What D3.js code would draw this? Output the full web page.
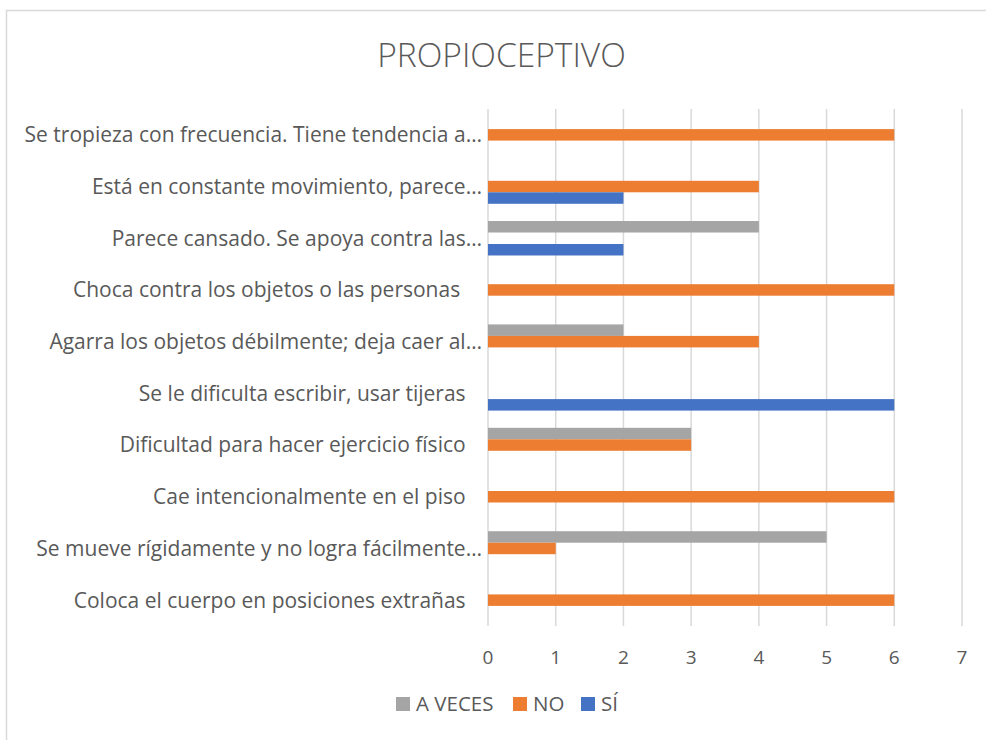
<!DOCTYPE html>
<html>
<head>
<meta charset="utf-8">
<script src="https://cdn.jsdelivr.net/npm/d3@7"></script>
<style>
  html, body { margin: 0; padding: 0; background: #fff; }
  svg text { font-family: "Open Sans", "DejaVu Sans", sans-serif; fill: #595959; white-space: pre; }
</style>
</head>
<body>
<svg id="chart"></svg>
<script>
// some source labels carry trailing spaces, kept as they are
var categories = [
  "Se tropieza con frecuencia. Tiene tendencia a…",
  "Está en constante movimiento, parece…",
  "Parece cansado. Se apoya contra las…",
  "Choca contra los objetos o las personas    ",
  "Agarra los objetos débilmente; deja caer al…",
  "Se le dificulta escribir, usar tijeras   ",
  "Dificultad para hacer ejercicio físico   ",
  "Cae intencionalmente en el piso   ",
  "Se mueve rígidamente y no logra fácilmente…",
  "Coloca el cuerpo en posiciones extrañas   "
];
var seriesNames = ["A VECES", "NO", "SÍ"];
var aVeces = [0, 0, 4, 0, 2, 0, 3, 0, 5, 0];
var no     = [6, 4, 0, 6, 4, 0, 3, 6, 1, 6];
var si     = [0, 2, 2, 0, 0, 6, 0, 0, 0, 0];
var xTicks = [0, 1, 2, 3, 4, 5, 6, 7];
var colors = ["#A5A5A5", "#ED7D31", "#4472C4"];

var width = 986, height = 740;
var svg = d3.select("#chart").attr("width", width).attr("height", height);

// chart area frame (runs past the right/bottom edge)
svg.append("rect")
  .attr("x", 6.5).attr("y", 10.5)
  .attr("width", 1000).attr("height", 760)
  .attr("fill", "#fff")
  .attr("stroke", "#d9d9d9")
  .attr("stroke-width", 1.5);

svg.append("text")
  .attr("x", 501.5).attr("y", 67)
  .attr("text-anchor", "middle")
  .style("font-size", "33.5px")
  .style("font-weight", 300)
  .text("PROPIOCEPTIVO");

var x = d3.scaleLinear().domain([0, 7]).range([488, 962]);
var y = d3.scaleBand().domain(d3.range(categories.length)).range([109, 626]).padding(0);
var ySub = d3.scaleBand().domain(seriesNames)
  .range([y.bandwidth() / 6, y.bandwidth() * 5 / 6]).padding(0);

// gridlines
svg.append("g").selectAll("line")
  .data(xTicks)
  .enter().append("line")
    .attr("x1", function(d) { return x(d); })
    .attr("x2", function(d) { return x(d); })
    .attr("y1", 109).attr("y2", 626)
    .attr("stroke", "#d9d9d9")
    .attr("stroke-width", 1.5);

var rows = categories.map(function(c, i) {
  return { i: i, vals: [aVeces[i], no[i], si[i]] };
});

var group = svg.append("g").selectAll("g")
  .data(rows)
  .enter().append("g")
    .attr("transform", function(d) { return "translate(0," + y(d.i) + ")"; });

group.selectAll("rect")
  .data(function(d) {
    return d.vals.map(function(v, k) { return { key: seriesNames[k], k: k, v: v }; })
      .filter(function(e) { return e.v > 0; });
  })
  .enter().append("rect")
    .attr("x", x(0))
    .attr("y", function(d) { return ySub(d.key); })
    .attr("width", function(d) { return x(d.v) - x(0); })
    .attr("height", ySub.bandwidth())
    .attr("fill", function(d) { return colors[d.k]; });

// category labels
svg.append("g").selectAll("text")
  .data(categories)
  .enter().append("text")
    .attr("x", 482)
    .attr("y", function(d, i) { return y(i) + y.bandwidth() / 2; })
    .attr("dy", "0.35em")
    .attr("text-anchor", "end")
    .style("font-size", "21px")
    .text(function(d) { return d; });

// x tick labels
svg.append("g").selectAll("text")
  .data(xTicks)
  .enter().append("text")
    .attr("x", function(d) { return x(d); })
    .attr("y", 657)
    .attr("dy", "0.35em")
    .attr("text-anchor", "middle")
    .style("font-size", "19px")
    .text(function(d) { return d; });

// legend
var legendX = [396, 513, 581];
var legend = svg.append("g").selectAll("g")
  .data(seriesNames)
  .enter().append("g")
    .attr("transform", function(d, i) { return "translate(" + legendX[i] + ",697)"; });
legend.append("rect")
  .attr("width", 14).attr("height", 14)
  .attr("fill", function(d, i) { return colors[i]; });
legend.append("text")
  .attr("x", 20).attr("y", 7)
  .attr("dy", "0.35em")
  .style("font-size", "20.5px")
  .text(function(d) { return d; });
</script>
</body>
</html>
